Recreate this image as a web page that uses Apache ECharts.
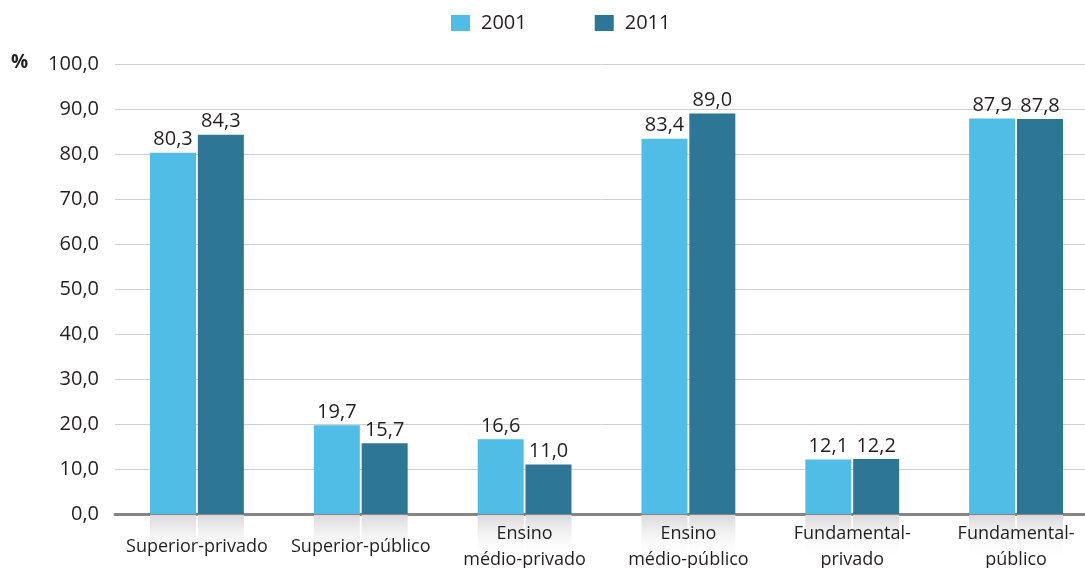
<!DOCTYPE html>
<html>
<head>
<meta charset="utf-8">
<script src="https://cdn.jsdelivr.net/npm/echarts@6/dist/echarts.min.js"></script>
<style>
  html, body { margin: 0; padding: 0; background: #fff; }
  #chart { width: 1085px; height: 568px; }
</style>
</head>
<body>
<div id="chart"></div>
<script>
const categories = ['Superior-privado', 'Superior-público', 'Ensino\nmédio-privado', 'Ensino\nmédio-público', 'Fundamental-\nprivado', 'Fundamental-\npúblico'];
const values2001 = [80.3, 19.7, 16.6, 83.4, 12.1, 87.9];
const values2011 = [84.3, 15.7, 11.0, 89.0, 12.2, 87.8];
// reflection boxes under the axis, one per bar
const shade = categories.map(() => 1);

const fmt = v => v.toFixed(1).replace('.', ',');
const font = '"Open Sans", sans-serif';

var chart = echarts.init(document.getElementById('chart'));
var reflect = {
  type: 'linear', x: 0, y: 0, x2: 0, y2: 1,
  colorStops: [{ offset: 0, color: '#d9d9db' }, { offset: 1, color: 'rgba(255,255,255,0)' }]
};
var barCommon = { barWidth: 46, barGap: '4%', barCategoryGap: '42%' };

var option = {
  animation: false,
  textStyle: { fontFamily: font },
  legend: {
    top: 8, left: 446,
    itemWidth: 19, itemHeight: 16, itemGap: 68,
    icon: 'rect',
    data: ['2001', '2011'],
    textStyle: { fontSize: 20, color: '#231f20', padding: [0, 0, 0, 6], fontFamily: font }
  },
  graphic: [{
    type: 'text', left: 11, top: 53,
    style: { text: '%', font: 'bold 19px ' + font, fill: '#231f20' }
  }],
  grid: [
    { left: 115, width: 983, top: 64, height: 450, outerBoundsMode: 'none', containLabel: false },
    { left: 115, width: 983, top: 515, height: 45, outerBoundsMode: 'none', containLabel: false }
  ],
  xAxis: [{
    type: 'category', data: categories, gridIndex: 0,
    axisLine: { lineStyle: { color: '#858585', width: 3 } },
    axisTick: { show: false },
    axisLabel: { show: false }
  }, {
    type: 'category', data: categories, gridIndex: 1, position: 'top', z: 10,
    axisLine: { show: false }, axisTick: { show: false },
    axisLabel: {
      color: '#231f20', fontSize: 18, lineHeight: 26, fontFamily: font,
      interval: 0, verticalAlign: 'middle', margin: -32
    }
  }],
  yAxis: [{
    type: 'value', min: 0, max: 100, interval: 10, gridIndex: 0,
    axisLabel: { formatter: fmt, fontSize: 20, color: '#231f20', margin: 16 },
    splitLine: { lineStyle: { color: '#d0d0d0', width: 1 } },
    axisLine: { show: false }, axisTick: { show: false }
  }, {
    type: 'value', min: 0, max: 1, inverse: true, gridIndex: 1, show: false
  }],
  series: [{
    name: '2001', type: 'bar', data: values2001, ...barCommon,
    itemStyle: { color: '#4fbde6' },
    label: { show: true, position: 'top', distance: 3, formatter: p => fmt(p.value), fontSize: 20, color: '#231f20' }
  }, {
    name: '2011', type: 'bar', data: values2011, ...barCommon,
    itemStyle: { color: '#2e7696' },
    label: { show: true, position: 'top', distance: 3, formatter: p => fmt(p.value), fontSize: 20, color: '#231f20' }
  }, {
    type: 'bar', data: shade, xAxisIndex: 1, yAxisIndex: 1, ...barCommon,
    itemStyle: { color: reflect }, silent: true, z: 1
  }, {
    type: 'bar', data: shade, xAxisIndex: 1, yAxisIndex: 1, ...barCommon,
    itemStyle: { color: reflect }, silent: true, z: 1
  }]
};
chart.setOption(option);
</script>
</body>
</html>
